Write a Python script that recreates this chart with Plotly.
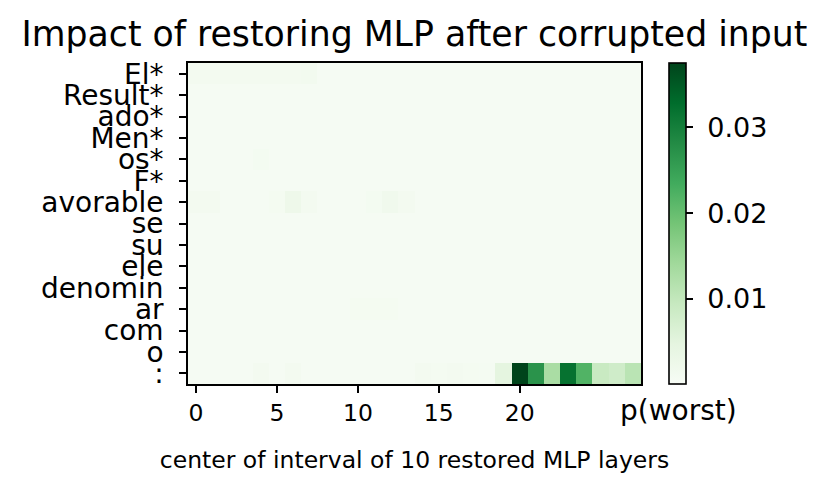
import plotly.graph_objects as go
import plotly.express as px

tokens = ['El*', 'Result*', 'ado*', 'Men*', 'os*', 'F*', 'avorable', 'se',
          'su', 'ele', 'denomin', 'ar', 'com', 'o', ':']
layers = list(range(28))

# p(worst) per token row, one value per restored layer window
r_el = [.0012, .0012, .0012, .0012, .0012, .0012, .0012, .0015, .0006, .0006, .0006, .0006, .0006, .0006,
        .0006, .0006, .0006, .0006, .0006, .0006, .0006, .0006, .0006, .0006, .0006, .0006, .0006, .0006]
r_result = [.0005, .0005, .0005, .0005, .0005, .0005, .0005, .0005, .0005, .0005, .0005, .0005, .0005, .0005,
            .0005, .0005, .0005, .0005, .0005, .0005, .0005, .0005, .0005, .0005, .0005, .0005, .0005, .0005]
r_ado = [.0005, .0005, .0005, .0005, .0005, .0005, .0005, .0005, .0005, .0005, .0005, .0005, .0005, .0005,
         .0005, .0005, .0005, .0005, .0005, .0005, .0005, .0005, .0005, .0005, .0005, .0005, .0005, .0005]
r_men = [.0005, .0005, .0005, .0005, .0005, .0005, .0005, .0005, .0005, .0005, .0005, .0005, .0005, .0005,
         .0005, .0005, .0005, .0005, .0005, .0005, .0005, .0005, .0005, .0005, .0005, .0005, .0005, .0005]
r_os = [.0005, .0005, .0005, .0005, .0011, .0005, .0005, .0005, .0005, .0005, .0005, .0005, .0005, .0005,
        .0005, .0005, .0005, .0005, .0005, .0005, .0005, .0005, .0005, .0005, .0005, .0005, .0005, .0005]
r_f = [.0005, .0005, .0005, .0005, .0005, .0005, .0005, .0005, .0005, .0005, .0005, .0005, .0005, .0005,
       .0005, .0005, .0005, .0005, .0005, .0005, .0005, .0005, .0005, .0005, .0005, .0005, .0005, .0005]
r_avorable = [.0012, .0012, .0006, .0006, .0006, .0009, .0025, .0012, .0006, .0006, .0006, .0011, .0018, .0012,
              .0006, .0006, .0006, .0006, .0006, .0006, .0006, .0006, .0006, .0006, .0006, .0006, .0006, .0006]
r_se = [.0005, .0005, .0005, .0005, .0005, .0005, .0005, .0005, .0005, .0005, .0005, .0005, .0005, .0005,
        .0005, .0005, .0005, .0005, .0005, .0005, .0005, .0005, .0005, .0005, .0005, .0005, .0005, .0005]
r_su = [.0005, .0005, .0005, .0005, .0005, .0005, .0005, .0005, .0005, .0005, .0005, .0005, .0005, .0005,
        .0005, .0005, .0005, .0005, .0005, .0005, .0005, .0005, .0005, .0005, .0005, .0005, .0005, .0005]
r_ele = [.0005, .0005, .0005, .0005, .0005, .0005, .0005, .0005, .0005, .0005, .0005, .0005, .0005, .0005,
         .0005, .0005, .0005, .0005, .0005, .0005, .0005, .0005, .0005, .0005, .0005, .0005, .0005, .0005]
r_denomin = [.0005, .0005, .0005, .0005, .0005, .0005, .0005, .0005, .0005, .0005, .0005, .0005, .0005, .0005,
             .0005, .0005, .0005, .0005, .0005, .0005, .0005, .0005, .0005, .0005, .0005, .0005, .0005, .0005]
r_ar = [.0005, .0005, .0005, .0005, .0005, .0005, .0005, .0005, .0005, .0005, .0009, .0010, .0009, .0005,
        .0005, .0005, .0005, .0005, .0005, .0005, .0005, .0005, .0005, .0005, .0005, .0005, .0005, .0005]
r_com = [.0005, .0005, .0005, .0005, .0005, .0005, .0005, .0005, .0005, .0005, .0005, .0005, .0005, .0005,
         .0005, .0005, .0005, .0005, .0005, .0005, .0005, .0005, .0005, .0005, .0005, .0005, .0005, .0005]
r_o = [.0005, .0005, .0005, .0005, .0005, .0005, .0005, .0005, .0005, .0005, .0005, .0005, .0005, .0005,
       .0005, .0005, .0005, .0005, .0005, .0005, .0005, .0005, .0005, .0005, .0005, .0005, .0005, .0005]
r_colon = [.0006, .0006, .0006, .0006, .0012, .0006, .0012, .0006, .0006, .0006, .0006, .0006, .0006, .0006,
           .0012, .0009, .0012, .0009, .0008, .0048, .0375, .0270, .0130, .0320, .0220, .0092, .0082, .0110]

z = [r_el, r_result, r_ado, r_men, r_os, r_f, r_avorable, r_se, r_su, r_ele,
     r_denomin, r_ar, r_com, r_o, r_colon]

cbar_ticks = [0.01, 0.02, 0.03]

font = 'DejaVu Sans'

fig = go.Figure(go.Heatmap(
    z=z, x=layers, y=tokens,
    colorscale=px.colors.sequential.Greens,
    zmin=0.0001, zmax=0.0375,
    colorbar=dict(
        x=1.062, xanchor='left', y=0.5, yanchor='middle',
        len=1, lenmode='fraction', thickness=17, xpad=0, ypad=0,
        outlinecolor='black', outlinewidth=1.6,
        tickvals=cbar_ticks, ticktext=['\u00a0%.2f' % t for t in cbar_ticks],
        ticks='outside', ticklen=7, tickwidth=1.6, tickcolor='black',
        tickfont=dict(family=font, size=27, color='black'),
    ),
))

fig.add_annotation(text='p(worst)', xref='paper', yref='paper', x=1.082, y=-0.081,
                   xanchor='center', yanchor='middle', showarrow=False,
                   font=dict(family=font, size=28, color='black'))

fig.update_layout(
    width=831, height=496,
    margin=dict(l=188, r=190, t=63, b=112, autoexpand=False),
    paper_bgcolor='white', plot_bgcolor='white',
    title=dict(text='Impact of restoring MLP after corrupted input', x=0.5, xref='paper',
               xanchor='center', y=0.931, yanchor='middle',
               font=dict(family=font, size=34.7, color='black')),
    font=dict(family=font, color='black'),
)
fig.update_xaxes(
    tickvals=[0, 5, 10, 15, 20], range=[-0.5, 27.5],
    ticks='outside', ticklen=7, tickwidth=1.6, tickcolor='black',
    showline=True, linecolor='black', linewidth=1.6, mirror=True, showgrid=False, zeroline=False,
    tickfont=dict(family=font, size=23.5, color='black'),
    title=dict(text='center of interval of 10 restored MLP layers',
               font=dict(family=font, size=23.5, color='black'), standoff=26),
)
fig.update_yaxes(
    autorange='reversed', tickmode='array', tickvals=tokens,
    ticks='outside', ticklen=7, tickwidth=1.6, tickcolor='black', ticklabelstandoff=10,
    showline=True, linecolor='black', linewidth=1.6, mirror=True, showgrid=False, zeroline=False,
    tickfont=dict(family=font, size=28, color='black'),
)

fig.write_html('out.html', config={'displayModeBar': False},
               post_script="document.body.style.margin='0';")
